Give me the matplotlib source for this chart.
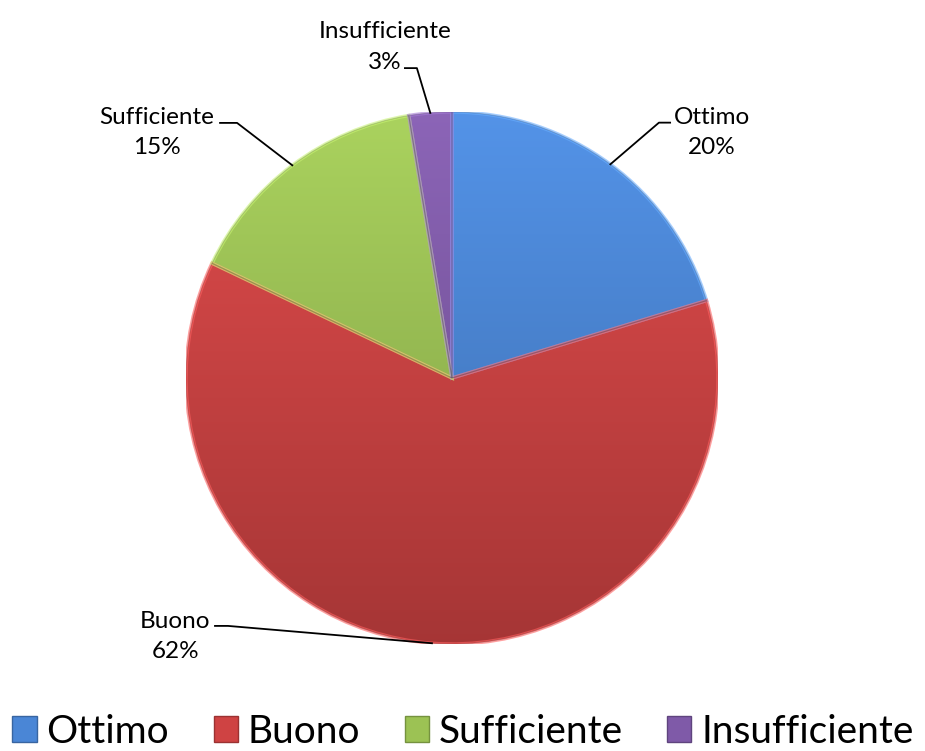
import numpy as np
import matplotlib
matplotlib.use("Agg")
import matplotlib.pyplot as plt
from matplotlib.patches import Patch, Wedge
from matplotlib.colors import to_rgb

categories = ["Ottimo", "Buono", "Sufficiente", "Insufficiente"]
values = [20.3, 61.8, 15.3, 2.6]   # percent shares
colors = ["#4A86D6", "#CF4343", "#9CC254", "#7F5AA8"]

# label layout (data units of the unit pie): text centre, leader elbow, leader end
label_text_pos = [(0.977, 0.922), (-1.041, -0.973), (-1.109, 0.922), (-0.252, 1.245)]
leader_elbow = [(0.778, 0.960), (-0.842, -0.932), (-0.808, 0.959), (-0.132, 1.165)]
leader_end = [(0.820, 0.960), (-0.891, -0.932), (-0.872, 0.959), (-0.177, 1.165)]

plt.rcParams['font.family'] = ['Lato', 'DejaVu Sans']

W, H = 925, 751
fig = plt.figure(figsize=(W / 100, H / 100), dpi=100)
cx, cy, R = 452, 378, 266
ax = fig.add_axes([(cx - R) / W, (H - cy - R) / H, 2 * R / W, 2 * R / H])
ax.axis('off')

wedges, _ = ax.pie(values, colors=colors, startangle=90, counterclock=False,
                   radius=1.0, wedgeprops=dict(linewidth=1.2, edgecolor='white'))

# gentle vertical shading like the original bevelled look
grad = np.linspace(0, 1, 256).reshape(-1, 1)
for w, c in zip(wedges, colors):
    base = np.array(to_rgb(c))
    top = np.clip(base * 1.06 + 0.02, 0, 1)
    bot = base * 0.80
    img = top[None, None, :] * (1 - grad[:, :, None]) + bot[None, None, :] * grad[:, :, None]
    im = ax.imshow(img, extent=(-1, 1, -1, 1), origin='upper', zorder=w.get_zorder() + 0.1,
                   interpolation='bilinear')
    im.set_clip_path(w)
    ax.add_patch(Wedge(w.center, w.r, w.theta1, w.theta2, facecolor='none',
                       edgecolor=np.clip(base * 1.15 + 0.08, 0, 1), linewidth=2.5,
                       zorder=w.get_zorder() + 0.2, alpha=0.6))
    w.set_visible(False)
    ax.add_patch(Wedge(w.center, w.r, w.theta1, w.theta2, facecolor='none',
                       edgecolor=(0, 0, 0, 0.15), linewidth=0.8,
                       zorder=w.get_zorder() + 0.3))

total = sum(values)
for i, w in enumerate(wedges):
    mid = np.deg2rad((w.theta1 + w.theta2) / 2)
    ax_, ay_ = np.cos(mid), np.sin(mid)
    ex, ey = leader_elbow[i]
    nx, ny = leader_end[i]
    ax.plot([ax_, ex, nx], [ay_, ey, ny], color='black', lw=1.3, clip_on=False, zorder=10)
    tx, ty = label_text_pos[i]
    pct = f"{round(100 * values[i] / total)}%"
    ax.text(tx, ty, f"{categories[i]}\n{pct}", ha='center', va='center',
            fontsize=17.5, linespacing=1.55, clip_on=False)

ax.set_xlim(-1, 1)
ax.set_ylim(-1, 1)
ax.set_aspect('equal')

handles = [Patch(facecolor=c, edgecolor=np.array(to_rgb(c)) * 0.75, label=l)
           for c, l in zip(colors, categories)]
fig.legend(handles=handles, loc='center', bbox_to_anchor=(0.5005, 1 - 732 / H), ncol=4,
           frameon=False, fontsize=28, handlelength=0.62, handleheight=0.64,
           handletextpad=0.25, columnspacing=1.15, borderaxespad=0)

fig.savefig("out.png", dpi=100)
